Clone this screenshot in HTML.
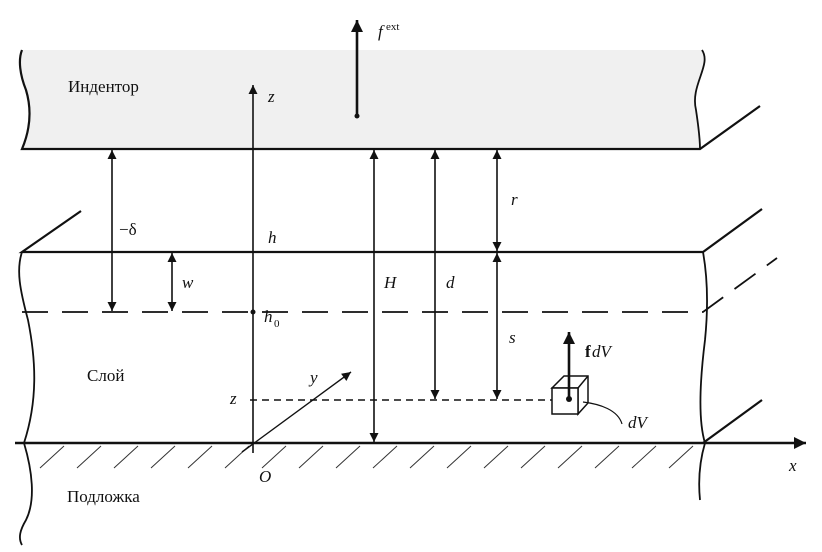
<!DOCTYPE html>
<html><head><meta charset="utf-8"><style>
body{margin:0;background:#fff}
svg{display:block}
text{font-family:"Liberation Serif",serif;fill:#111}
.i{font-style:italic;font-size:17px}
.r{font-size:17px}
</style></head><body>
<svg width="822" height="552" viewBox="0 0 822 552" xmlns="http://www.w3.org/2000/svg">
<defs>
<marker id="a" viewBox="0 0 10 10" refX="10" refY="5" markerWidth="14" markerHeight="9" markerUnits="userSpaceOnUse" orient="auto-start-reverse"><path d="M0,0 L10,5 L0,10 z" fill="#111"/></marker>
<marker id="b" viewBox="0 0 10 10" refX="10" refY="5" markerWidth="20" markerHeight="12" markerUnits="userSpaceOnUse" orient="auto"><path d="M0,0 L10,5 L0,10 z" fill="#111"/></marker>
</defs>
<!-- Indentor -->
<path d="M22,50 L702,50 C712,65 690,85 696,110 C699,130 700,140 700,149 L22,149 C30,130 32,110 26,90 C20,75 18,60 22,50 Z" fill="#f0f0f0"/>
<path d="M22,50 C18,60 20,75 26,90 C32,110 30,130 22,149 L700,149 L760,106" fill="none" stroke="#111" stroke-width="2.2"/>
<path d="M702,50 C712,65 690,85 696,110 C699,130 700,140 700,149" fill="none" stroke="#111" stroke-width="1.8"/>
<!-- layer top -->
<path d="M81,211 L22,252 L703,252 L762,209" fill="none" stroke="#111" stroke-width="2.2"/>
<path d="M22,252 C16,270 20,290 28,320 C36,360 38,400 24,443 C32,470 36,500 26,520 C20,530 18,538 22,545" fill="none" stroke="#111" stroke-width="1.8"/>
<path d="M703,252 C708,280 708,310 705,340 C700,380 698,420 705,443 C700,460 698,480 700,500" fill="none" stroke="#111" stroke-width="1.8"/>
<!-- dashed -->
<path d="M22,312 L703,312 L777,258" fill="none" stroke="#111" stroke-width="1.8" stroke-dasharray="26,14"/>
<!-- base -->
<line x1="15" y1="443" x2="806" y2="443" stroke="#111" stroke-width="2.5" marker-end="url(#b)"/>
<path d="M703,443 L762,400" stroke="#111" stroke-width="2.2"/>
<g stroke="#333" stroke-width="1">
<path d="M40,468 L64,446 M77,468 L101,446 M114,468 L138,446 M151,468 L175,446 M188,468 L212,446 M225,468 L249,446 M262,468 L286,446 M299,468 L323,446 M336,468 L360,446 M373,468 L397,446 M410,468 L434,446 M447,468 L471,446 M484,468 L508,446 M521,468 L545,446 M558,468 L582,446 M595,468 L619,446 M632,468 L656,446 M669,468 L693,446"/>
</g>
<!-- axes -->
<line x1="253" y1="453" x2="253" y2="85" stroke="#111" stroke-width="1.6" marker-end="url(#a)"/>
<line x1="242" y1="452" x2="351" y2="372" stroke="#111" stroke-width="1.4" marker-end="url(#a)"/>
<!-- f ext -->
<line x1="357" y1="116" x2="357" y2="20" stroke="#111" stroke-width="2.6" marker-end="url(#b)"/>
<circle cx="357" cy="116" r="2.5" fill="#111"/>
<!-- dims -->
<g stroke="#111" stroke-width="1.6">
<line x1="112" y1="150" x2="112" y2="311" marker-start="url(#a)" marker-end="url(#a)"/>
<line x1="172" y1="253" x2="172" y2="311" marker-start="url(#a)" marker-end="url(#a)"/>
<line x1="374" y1="150" x2="374" y2="442" marker-start="url(#a)" marker-end="url(#a)"/>
<line x1="435" y1="150" x2="435" y2="399" marker-start="url(#a)" marker-end="url(#a)"/>
<line x1="497" y1="150" x2="497" y2="251" marker-start="url(#a)" marker-end="url(#a)"/>
<line x1="497" y1="253" x2="497" y2="399" marker-start="url(#a)" marker-end="url(#a)"/>
</g>
<circle cx="253" cy="312" r="2.5" fill="#111"/>
<line x1="250" y1="400" x2="566" y2="400" stroke="#111" stroke-width="1.4" stroke-dasharray="7,5"/>
<!-- cube -->
<g fill="#fff" stroke="#111" stroke-width="1.5">
<path d="M552,388 L564,376 L588,376 L588,403 L578,414 L578,388 Z"/>
<line x1="578" y1="388" x2="588" y2="376"/>
<rect x="552" y="388" width="26" height="26"/>
</g>
<path d="M583,402 C600,404 618,410 622,424" fill="none" stroke="#111" stroke-width="1.2"/>
<line x1="569" y1="400" x2="569" y2="332" stroke="#111" stroke-width="2.6" marker-end="url(#b)"/>
<circle cx="569" cy="399" r="3" fill="#111"/>
<!-- labels -->
<text class="r" x="68" y="92">Индентор</text>
<text class="r" x="87" y="381">Слой</text>
<text class="r" x="67" y="502">Подложка</text>
<text class="i" x="268" y="102">z</text>
<text x="378" y="37" class="i" font-size="17">f</text><text x="386" y="30" font-size="11">ext</text>
<text class="r" x="119" y="235">−δ</text>
<text class="i" x="268" y="243">h</text>
<text class="i" x="182" y="288">w</text>
<text class="i" x="384" y="288">H</text>
<text class="i" x="446" y="288">d</text>
<text class="i" x="511" y="205">r</text>
<text class="i" x="509" y="343">s</text>
<text class="i" x="264" y="322">h</text><text x="274" y="327" font-size="11">0</text>
<text class="i" x="310" y="383">y</text>
<text class="i" x="230" y="404">z</text>
<text class="i" x="259" y="482">O</text>
<text class="i" x="789" y="471">x</text>
<text x="585" y="357" font-size="17" font-weight="bold">f</text><text class="i" x="592" y="357">dV</text>
<text class="i" x="628" y="428">dV</text>
</svg>
</body></html>
